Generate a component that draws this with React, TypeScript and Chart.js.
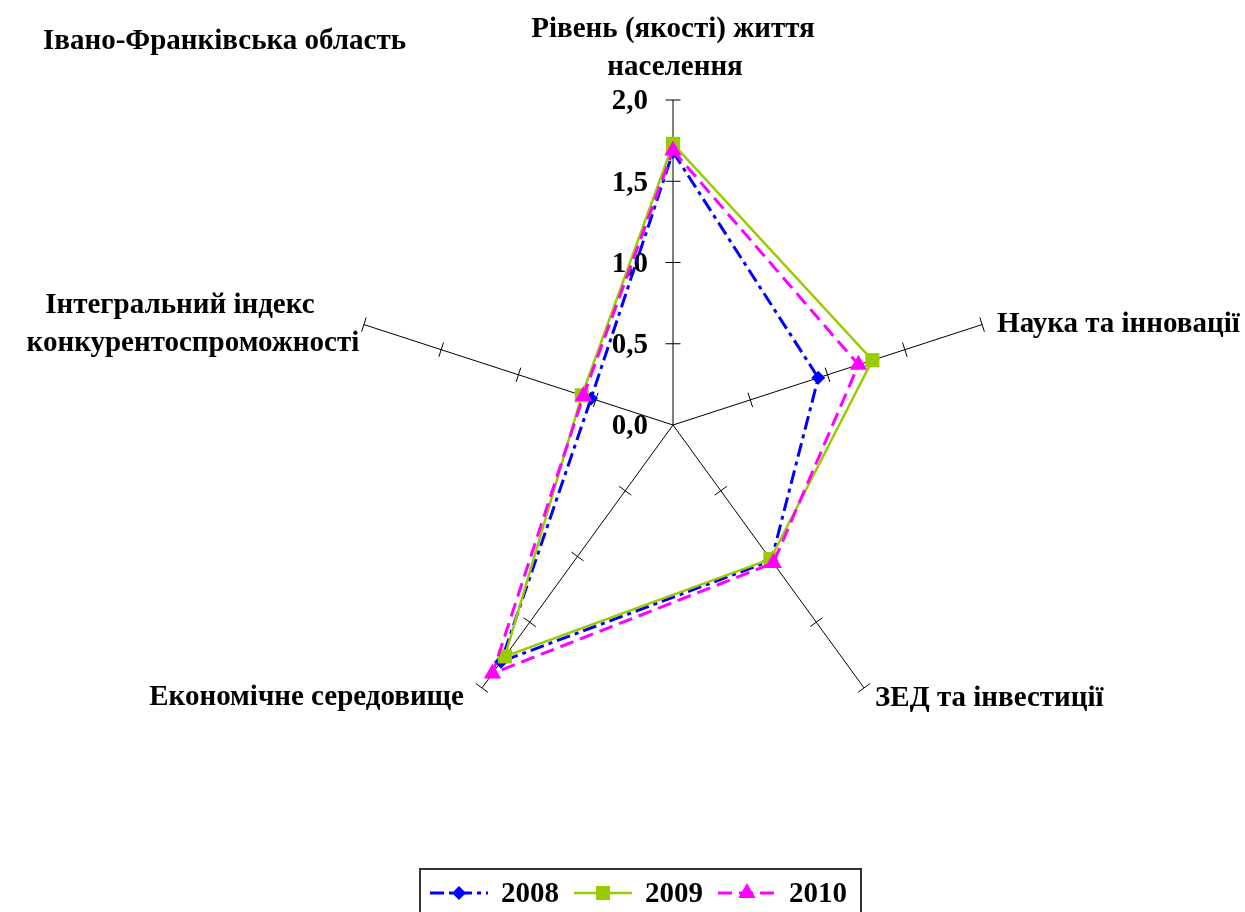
import React, { useEffect, useRef } from 'react';
import { Chart, registerables } from 'chart.js';

Chart.register(...registerables);

// ---------- data ----------
const titleText = 'Івано-Франківська область';
const axisLabels: string[][] = [
  ['Рівень (якості) життя', 'населення'],
  ['Наука та інновації'],
  ['ЗЕД та інвестиції'],
  ['Економічне середовище'],
  ['Інтегральний індекс', 'конкурентоспроможності'],
];
const seriesNames = ['2008', '2009', '2010'];
const values2008 = [1.68, 0.94, 1.03, 1.8, 0.53];
const values2009 = [1.73, 1.29, 1.02, 1.76, 0.59];
const values2010 = [1.69, 1.2, 1.05, 1.89, 0.58];
const tickValues = [0, 0.5, 1, 1.5, 2];
const tickLabels = ['0,0', '0,5', '1,0', '1,5', '2,0'];

// ---------- styles ----------
const FONT = 'bold 29px "Liberation Serif", "Times New Roman", serif';
const seriesStyles = [
  { color: '#0000FF', dash: [14, 5, 4, 5], width: 3, point: 'rectRot', radius: 7 },
  { color: '#99CC00', dash: [] as number[], width: 2.5, point: 'rect', radius: 10 },
  { color: '#FF00FF', dash: [14, 7], width: 3, point: 'triangle', radius: 10 },
];
// label placement relative to axis end point: per line [dx, dy], align
const labelPlacement: { lines: [number, number][]; align: CanvasTextAlign }[] = [
  { lines: [[0, -63], [2, -25]], align: 'center' },
  { lines: [[15, 7]], align: 'left' },
  { lines: [[11, 18]], align: 'left' },
  { lines: [[-18, 17]], align: 'right' },
  { lines: [[-184, -12], [-171, 26]], align: 'center' },
];

function drawMarker(ctx: CanvasRenderingContext2D, kind: string, r: number, mx: number, cy: number) {
  ctx.beginPath();
  if (kind === 'rectRot') {
    ctx.moveTo(mx, cy - r);
    ctx.lineTo(mx + r, cy);
    ctx.lineTo(mx, cy + r);
    ctx.lineTo(mx - r, cy);
  } else if (kind === 'rect') {
    const h = r * Math.SQRT1_2;
    ctx.rect(mx - h, cy - h, 2 * h, 2 * h);
  } else {
    ctx.moveTo(mx, cy - r);
    ctx.lineTo(mx + r * Math.sin((2 * Math.PI) / 3), cy - r * Math.cos((2 * Math.PI) / 3));
    ctx.lineTo(mx + r * Math.sin((4 * Math.PI) / 3), cy - r * Math.cos((4 * Math.PI) / 3));
  }
  ctx.closePath();
  ctx.fill();
}

const decorPlugin = {
  id: 'decor',
  beforeDatasetsDraw(chart: any) {
    const scale = chart.scales.r;
    const ctx: CanvasRenderingContext2D = chart.ctx;
    const n = chart.data.labels.length;
    ctx.save();
    ctx.strokeStyle = '#000';
    ctx.lineWidth = 1;
    for (let i = 0; i < n; i++) {
      const angle = scale.getIndexAngle(i) - Math.PI / 2;
      const c = Math.cos(angle);
      const s = Math.sin(angle);
      for (const v of tickValues) {
        if (v === 0) continue;
        const d = scale.getDistanceFromCenterForValue(v);
        const px = scale.xCenter + c * d;
        const py = scale.yCenter + s * d;
        const tx = -s * 7.5;
        const ty = c * 7.5;
        ctx.beginPath();
        ctx.moveTo(px - tx, py - ty);
        ctx.lineTo(px + tx, py + ty);
        ctx.stroke();
      }
    }
    ctx.fillStyle = '#000';
    ctx.font = FONT;
    ctx.textAlign = 'right';
    ctx.textBaseline = 'middle';
    tickValues.forEach((v, k) => {
      const d = scale.getDistanceFromCenterForValue(v);
      ctx.fillText(tickLabels[k], scale.xCenter - 25, scale.yCenter - d + 2);
    });
    ctx.restore();
  },
  afterDraw(chart: any) {
    const scale = chart.scales.r;
    const ctx: CanvasRenderingContext2D = chart.ctx;
    const outer = scale.getDistanceFromCenterForValue(scale.max);
    ctx.save();
    ctx.fillStyle = '#000';
    ctx.font = FONT;
    ctx.textBaseline = 'alphabetic';
    ctx.textAlign = 'left';
    ctx.fillText(titleText, 43, 49);
    axisLabels.forEach((lines, i) => {
      const p = scale.getPointPosition(i, outer);
      const pl = labelPlacement[i];
      ctx.textAlign = pl.align;
      lines.forEach((ln, j) => ctx.fillText(ln, p.x + pl.lines[j][0], p.y + pl.lines[j][1]));
    });
    // legend
    const sampleW = 58;
    const gapText = 13;
    const gapItem = 15;
    const padL = 10;
    const padR = 14;
    const textW = seriesNames.map((t) => ctx.measureText(t).width);
    let total = padL + padR;
    textW.forEach((w, k) => {
      total += sampleW + gapText + w + (k > 0 ? gapItem : 0);
    });
    const boxX = Math.round(640 - total / 2);
    const boxY = 869;
    const cy = 893;
    ctx.strokeStyle = '#333';
    ctx.lineWidth = 2;
    ctx.strokeRect(boxX, boxY, total, 80);
    let x = boxX + padL;
    seriesNames.forEach((name, k) => {
      const st = seriesStyles[k];
      ctx.save();
      ctx.strokeStyle = st.color;
      ctx.lineWidth = st.width;
      ctx.setLineDash(st.dash);
      ctx.beginPath();
      ctx.moveTo(x, cy);
      ctx.lineTo(x + sampleW, cy);
      ctx.stroke();
      ctx.setLineDash([]);
      ctx.fillStyle = st.color;
      drawMarker(ctx, st.point, st.radius, x + sampleW / 2, cy);
      ctx.restore();
      x += sampleW + gapText;
      ctx.fillStyle = '#000';
      ctx.textAlign = 'left';
      ctx.textBaseline = 'middle';
      ctx.fillText(name, x, cy + 2);
      x += textW[k] + gapItem;
    });
    ctx.restore();
  },
};

export default function App() {
  const ref = useRef<HTMLCanvasElement | null>(null);
  useEffect(() => {
    if (!ref.current) return;
    const allValues = [values2008, values2009, values2010];
    const chart = new Chart(ref.current, {
      type: 'radar',
      data: {
        labels: axisLabels.map((l) => l.join(' ')),
        datasets: seriesNames.map((name, k) => ({
          label: name,
          data: allValues[k],
          borderColor: seriesStyles[k].color,
          backgroundColor: 'transparent',
          borderWidth: seriesStyles[k].width,
          borderDash: seriesStyles[k].dash,
          fill: false,
          tension: 0,
          pointStyle: seriesStyles[k].point as any,
          pointRadius: seriesStyles[k].radius,
          pointHoverRadius: seriesStyles[k].radius,
          pointBackgroundColor: seriesStyles[k].color,
          pointBorderColor: seriesStyles[k].color,
          pointBorderWidth: 0,
          order: 3 - k,
        })),
      },
      options: {
        responsive: false,
        animation: false,
        devicePixelRatio: 1,
        layout: { padding: { left: 348, right: 247, top: 100, bottom: 162 } },
        plugins: { legend: { display: false }, tooltip: { enabled: false }, title: { display: false } },
        scales: {
          r: {
            min: 0,
            max: 2,
            ticks: { stepSize: 0.5, display: false },
            grid: { display: false },
            angleLines: { display: true, color: '#000', lineWidth: 1 },
            pointLabels: { display: false },
          },
        },
      },
      plugins: [decorPlugin],
    });
    return () => chart.destroy();
  }, []);
  return (
    <div style={{ position: 'absolute', left: 0, top: 0, width: 1245, height: 912, background: '#fff' }}>
      <canvas ref={ref} width={1245} height={912} style={{ display: 'block' }} />
    </div>
  );
}
